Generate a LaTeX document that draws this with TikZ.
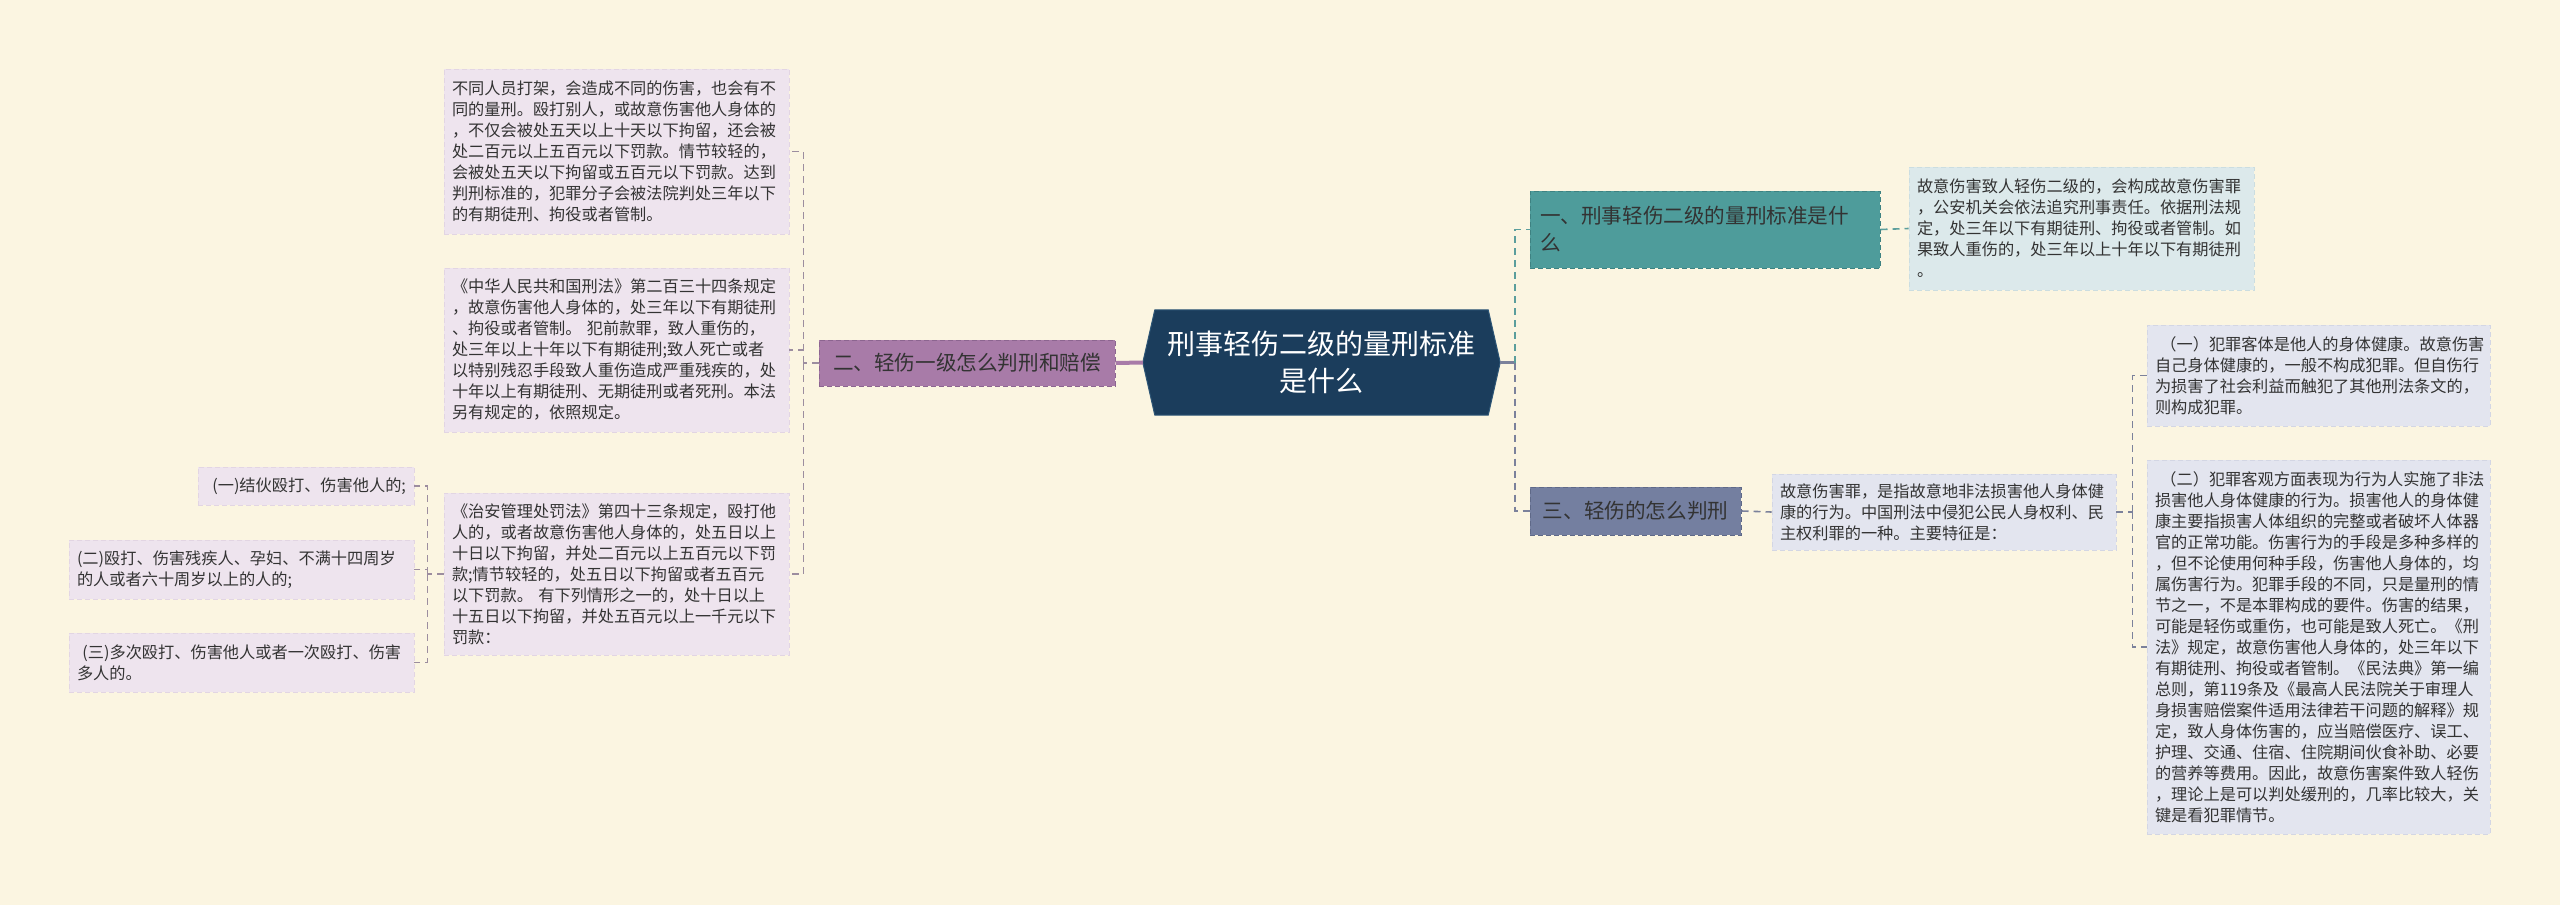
\documentclass[tikz,border=0pt]{standalone}
\usepackage{fontspec}
\setmainfont{Noto Sans CJK SC}
\definecolor{bg}{HTML}{FBF5E1}
\definecolor{navy}{HTML}{1B3D5C}
\definecolor{navyedge}{HTML}{2E5676}
\definecolor{purp}{HTML}{A87BA8}
\definecolor{purpb}{HTML}{8C6590}
\definecolor{teal}{HTML}{4E9C9B}
\definecolor{tealb}{HTML}{3E8282}
\definecolor{slate}{HTML}{747FA0}
\definecolor{slateb}{HTML}{5F6988}
\definecolor{lfill}{HTML}{EEE4EE}
\definecolor{lborder}{HTML}{E2D5E3}
\definecolor{tfill}{HTML}{DCE9EB}
\definecolor{tborder}{HTML}{CBDDE0}
\definecolor{sfill}{HTML}{E3E5EF}
\definecolor{sborder}{HTML}{D3D6E4}
\definecolor{ltext}{HTML}{333333}
\definecolor{conL}{HTML}{9C8D9F}
\definecolor{conT}{HTML}{5B9E9C}
\definecolor{conS}{HTML}{7B819B}
\newcommand\leaffont{\fontsize{16.2}{21}\selectfont}
\newcommand\branchfont{\fontsize{20.6}{27}\selectfont}
\newcommand\rootfont{\fontsize{28}{37}\selectfont}
\pgfdeclarelayer{canvas}
\pgfdeclarelayer{shapes}
\pgfsetlayers{canvas,shapes,main}
\tikzset{
  leafbox/.style={dashed, dash pattern=on 5pt off 3pt, line width=0.8pt, inner xsep=8pt, inner ysep=0pt,
    align=left, text=ltext, font=\leaffont},
  leafL/.style={leafbox, fill=lfill, draw=lborder},
  leafT/.style={leafbox, fill=tfill, draw=tborder},
  leafS/.style={leafbox, fill=sfill, draw=sborder},
  branchbox/.style={dashed, dash pattern=on 5pt off 3pt, line width=1pt, inner ysep=0pt, font=\branchfont},
  conn/.style={dashed, dash pattern=on 7pt off 5pt, line width=1.6pt},
}
\begin{document}
\begin{tikzpicture}[x=1pt,y=-1pt]
\begin{pgfonlayer}{canvas}
\fill[bg] (0,0) rectangle (2560,905);
\end{pgfonlayer}
\useasboundingbox (0,0) rectangle (2560,905);

% root
\node[font=\rootfont, text=white, align=center, minimum width=357pt, minimum height=105pt, inner sep=0pt] (c) at (1321.5,362.5) {刑事轻伤二级的量刑标准\\是什么};
\begin{pgfonlayer}{shapes}
\filldraw[fill=navy, draw=navyedge, line width=1pt] (c.west) -- ([xshift=12pt]c.north west) -- ([xshift=-12pt]c.north east) -- (c.east) -- ([xshift=-12pt]c.south east) -- ([xshift=12pt]c.south west) -- cycle;
\end{pgfonlayer}

% branches
\node[branchbox, fill=purp, draw=purpb, text=black!80, minimum width=296pt, minimum height=46pt, inner xsep=12pt] (b2) at (967,363) {二、轻伤一级怎么判刑和赔偿};
\node[branchbox, fill=teal, draw=tealb, text=black!80, text width=330pt, inner xsep=10pt, align=left, minimum height=77pt] (b1) at (1705,229.5) {一、刑事轻伤二级的量刑标准是什\\么};
\node[branchbox, fill=slate, draw=slateb, text=black!80, minimum width=211pt, minimum height=48pt, inner xsep=10pt] (b3) at (1635.5,511) {三、轻伤的怎么判刑};

% left leaves
\node[leafL, text width=329pt, minimum height=165pt] (l1) at (616.5,151.5) {不同人员打架，会造成不同的伤害，也会有不\\同的量刑。殴打别人，或故意伤害他人身体的\\，不仅会被处五天以上十天以下拘留，还会被\\处二百元以上五百元以下罚款。情节较轻的，\\会被处五天以下拘留或五百元以下罚款。达到\\判刑标准的，犯罪分子会被法院判处三年以下\\的有期徒刑、拘役或者管制。};
\node[leafL, text width=329pt, minimum height=164pt] (l2) at (616.5,350) {《中华人民共和国刑法》第二百三十四条规定\\，故意伤害他人身体的，处三年以下有期徒刑\\、拘役或者管制。 犯前款罪，致人重伤的，\\处三年以上十年以下有期徒刑;致人死亡或者\\以特别残忍手段致人重伤造成严重残疾的，处\\十年以上有期徒刑、无期徒刑或者死刑。本法\\另有规定的，依照规定。};
\node[leafL, text width=329pt, minimum height=162pt] (l3) at (616.5,574) {《治安管理处罚法》第四十三条规定，殴打他\\人的，或者故意伤害他人身体的，处五日以上\\十日以下拘留，并处二百元以上五百元以下罚\\款;情节较轻的，处五日以下拘留或者五百元\\以下罚款。 有下列情形之一的，处十日以上\\十五日以下拘留，并处五百元以上一千元以下\\罚款：};

\node[leafL, align=right, text width=200pt, minimum height=38pt] (ll1) at (306,486) {(一)结伙殴打、伤害他人的;};
\node[leafL, text width=329pt, minimum height=59pt] (ll2) at (241.5,569.5) {(二)殴打、伤害残疾人、孕妇、不满十四周岁\\的人或者六十周岁以上的人的;};
\node[leafL, text width=329pt, minimum height=59pt] (ll3) at (241.5,662.5) {\ (三)多次殴打、伤害他人或者一次殴打、伤害\\多人的。};

% right leaves
\node[leafT, text width=329pt, minimum height=123pt] (r1) at (2081.5,228.5) {故意伤害致人轻伤二级的，会构成故意伤害罪\\，公安机关会依法追究刑事责任。依据刑法规\\定，处三年以下有期徒刑、拘役或者管制。如\\果致人重伤的，处三年以上十年以下有期徒刑\\。};
\node[leafS, text width=328pt, minimum height=76pt] (r3) at (1944,512) {故意伤害罪，是指故意地非法损害他人身体健\\康的行为。中国刑法中侵犯公民人身权利、民\\主权利罪的一种。主要特征是：};
\node[leafS, text width=327pt, minimum height=101pt] (r3a) at (2318.5,375.5) {\ （一）犯罪客体是他人的身体健康。故意伤害\\自己身体健康的，一般不构成犯罪。但自伤行\\为损害了社会利益而触犯了其他刑法条文的，\\则构成犯罪。};
\node[leafS, text width=327pt, minimum height=374pt] (r3b) at (2318.5,647) {\ （二）犯罪客观方面表现为行为人实施了非法\\损害他人身体健康的行为。损害他人的身体健\\康主要指损害人体组织的完整或者破坏人体器\\官的正常功能。伤害行为的手段是多种多样的\\，但不论使用何种手段，伤害他人身体的，均\\属伤害行为。犯罪手段的不同，只是量刑的情\\节之一，不是本罪构成的要件。伤害的结果，\\可能是轻伤或重伤，也可能是致人死亡。《刑\\法》规定，故意伤害他人身体的，处三年以下\\有期徒刑、拘役或者管制。《民法典》第一编\\总则，第119条及《最高人民法院关于审理人\\身损害赔偿案件适用法律若干问题的解释》规\\定，致人身体伤害的，应当赔偿医疗、误工、\\护理、交通、住宿、住院期间伙食补助、必要\\的营养等费用。因此，故意伤害案件致人轻伤\\，理论上是可以判处缓刑的，几率比较大，关\\键是看犯罪情节。};

% connectors
\draw[line width=4pt, color=purp] (c.west) -- (b2.east);
\draw[line width=2.5pt, color=conS] (c.east) -- ++(15,0) coordinate (rb);
\draw[conn, color=conT] (rb) |- (b1.west);
\draw[conn, color=conS] (rb) |- (b3.west);

\draw[conn, color=conL] (b2.west) -- ++(-15,0) coordinate (lb);
\draw[conn, color=conL] (lb) |- (l1.east);
\draw[conn, color=conL] (lb) |- (l2.east);
\draw[conn, color=conL] (lb) |- (l3.east);

\draw[conn, color=conL] (l3.west) -- ++(-16,0) coordinate (llb);
\draw[conn, color=conL] (llb) |- (ll1.east);
\draw[conn, color=conL] (llb) |- (ll2.east);
\draw[conn, color=conL] (llb) |- (ll3.east);

\draw[conn, color=conT] (b1.east) -- (r1.west);
\draw[conn, color=conS] (b3.east) -- (r3.west);
\draw[conn, color=conS] (r3.east) -- ++(16,0) coordinate (r3b0);
\draw[conn, color=conS] (r3b0) |- (r3a.west);
\draw[conn, color=conS] (r3b0) |- (r3b.west);
\end{tikzpicture}
\end{document}
